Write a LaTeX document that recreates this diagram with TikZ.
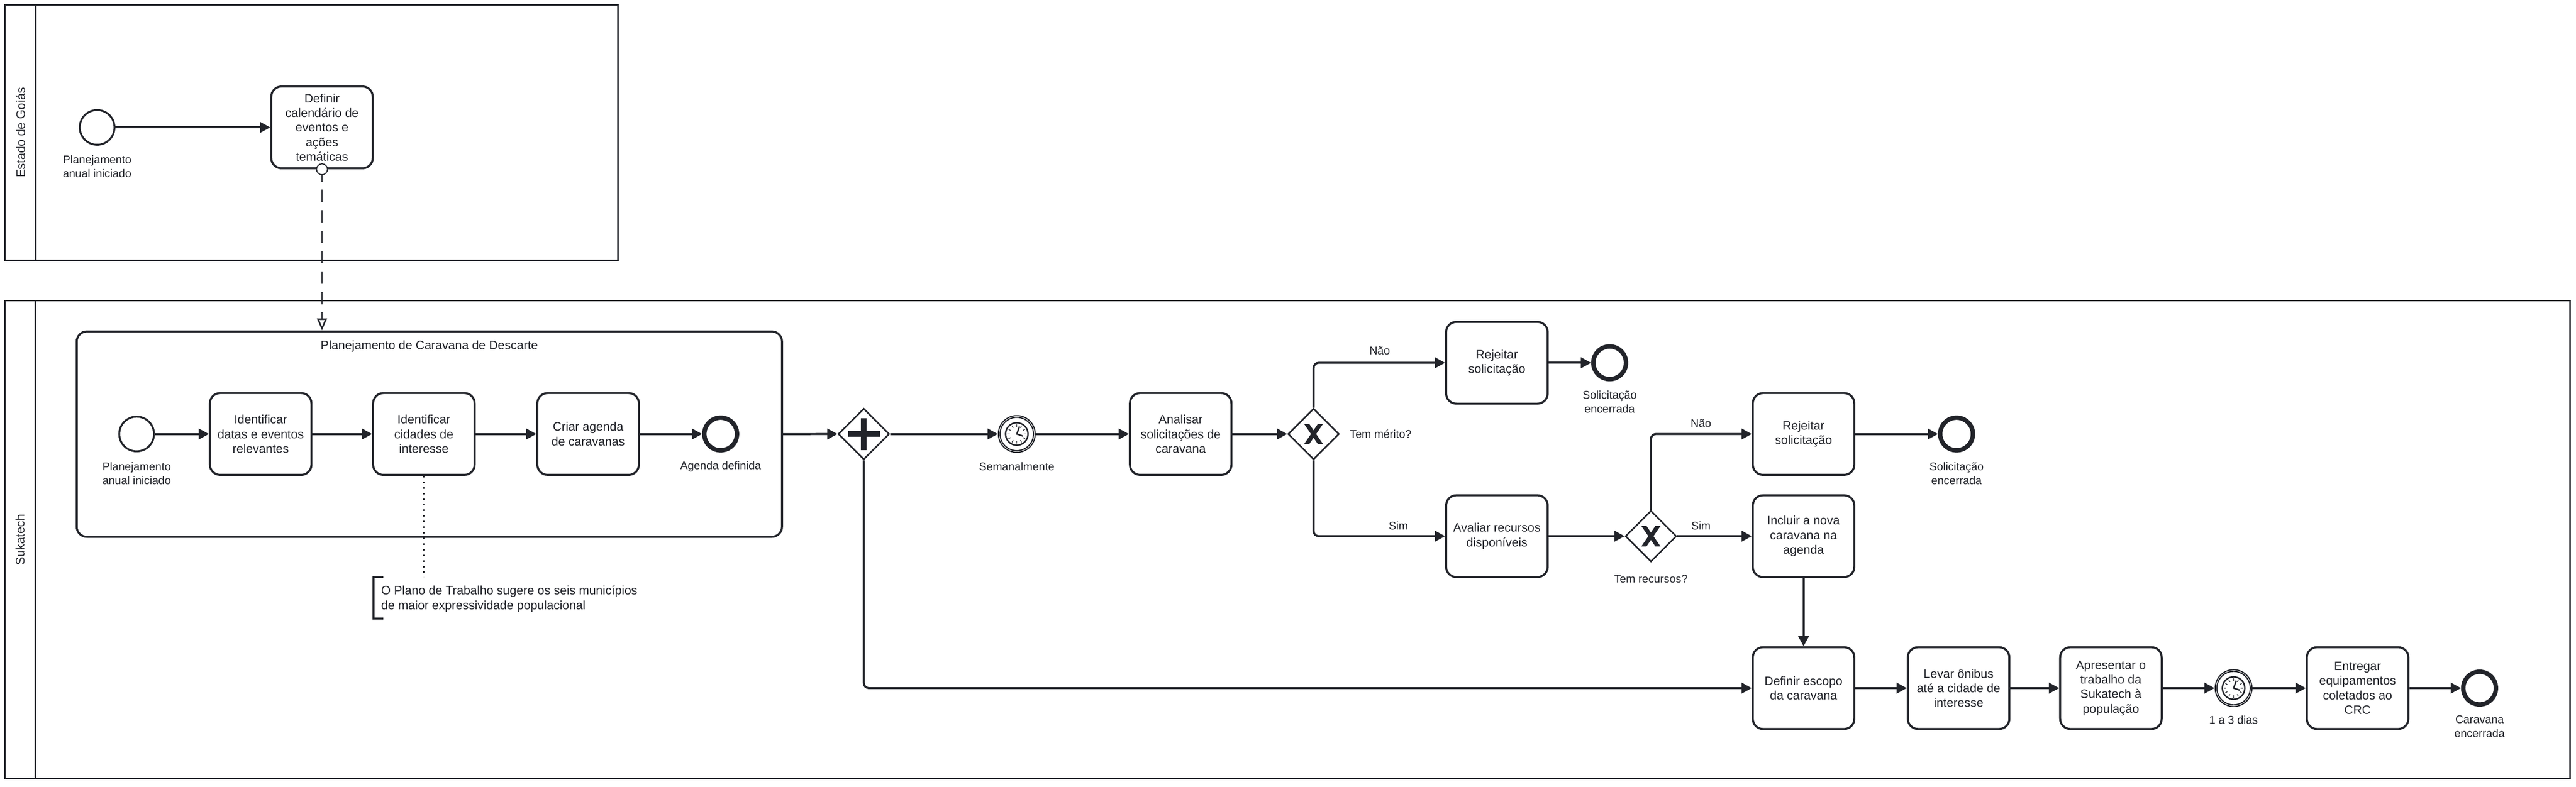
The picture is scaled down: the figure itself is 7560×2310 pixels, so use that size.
\documentclass[tikz,border=0pt]{standalone}
\usepackage{fontspec}
\setmainfont{Liberation Sans}
\usepackage{tikz}
\usetikzlibrary{calc}
\usetikzlibrary{arrows.meta,shapes.geometric}
\definecolor{ink}{HTML}{22242A}
\def\px{0.1mm}
\newcommand{\taskfont}{\fontsize{10.2}{12.2}\selectfont}
\newcommand{\lblfont}{\fontsize{9.35}{11.6}\selectfont}
% clock drawn inside a timer event
\newcommand{\clockface}[1]{%
  \draw[ink, line width=0.33mm] (#1.center) circle (4.9mm);
  \draw[ink, line width=0.43mm] (#1.center) circle (3.3mm);
  \foreach \ang in {0,30,...,330}
    \draw[ink, line width=0.2mm] ($(#1.center)+(\ang:21)$) -- ($(#1.center)+(\ang:28)$);
  \draw[ink, line width=0.42mm] ($(#1.center)+(8,-22)$) -- (#1.center) -- ($(#1.center)+(18,6)$);
}
% cross drawn inside an exclusive gateway
\newcommand{\xmark}[1]{%
  \fill[fill=ink] ($(#1.center)+(-28,-30)$) -- ($(#1.center)+(-13,-30)$) -- ($(#1.center)+(28,30)$) -- ($(#1.center)+(13,30)$) -- cycle;
  \fill[fill=ink] ($(#1.center)+(13,-30)$) -- ($(#1.center)+(28,-30)$) -- ($(#1.center)+(-13,30)$) -- ($(#1.center)+(-28,30)$) -- cycle;
}

\begin{document}
\begin{tikzpicture}[x=\px, y=-\px,
  ink/.style={draw=ink, text=ink},
  pool/.style={draw=ink, line width=0.45mm},
  task/.style={ink, line width=0.6mm, rounded corners=3mm, minimum width=29.8mm,
    minimum height=24mm, align=center, inner sep=0pt, font=\taskfont},
  subproc/.style={ink, line width=0.6mm, rounded corners=3mm, minimum width=207mm,
    minimum height=60.3mm, inner sep=0pt},
  startev/.style={circle, ink, line width=0.55mm, minimum size=10.2mm, inner sep=0pt},
  endev/.style={circle, ink, line width=1.3mm, minimum size=9.6mm, inner sep=0pt},
  timerev/.style={circle, ink, line width=0.33mm, minimum size=10.8mm, inner sep=0pt},
  gateway/.style={diamond, ink, line width=0.45mm, minimum width=15mm,
    minimum height=15mm, inner sep=0pt},
  flow/.style={draw=ink, line width=0.6mm, rounded corners=1.5mm,
    -{Triangle[length=3mm, width=3.1mm]}},
  msg/.style={draw=ink, line width=0.45mm, dash pattern=on 3.6mm off 2.4mm,
    -{Triangle[open, fill=white, length=3.5mm, width=2.9mm]}},
  assoc/.style={draw=ink, line width=0.45mm, dash pattern=on 0.45mm off 1.2mm},
  lbl/.style={align=center, inner sep=0pt, font=\lblfont, text=ink}]

\useasboundingbox (0,0) rectangle (7560,2310);

% POOLS
% estado de goias
\draw[pool] (14,14) rectangle (1814,764);
\draw[ink, line width=0.4mm] (105,14) -- (105,764);
\node[lbl, font=\taskfont, rotate=90] (poolGo) at (60,389) {Estado de Goiás};
% sukatech
\draw[pool] (14,883) rectangle (7543,2285);
\draw[ink, line width=0.4mm] (104,883) -- (104,2285);
\node[lbl, font=\taskfont, rotate=90] (poolSk) at (59,1584) {Sukatech};

% ESTADO DE GOIAS
\node[startev] (startGo) at (285,374) {};
\node[lbl] (startGoLbl) at ($(startGo)+(0,115)$) {Planejamento\\anual iniciado};
\node[task] (defCal) at (945,374) {Definir\\calendário de\\eventos e\\ações\\temáticas};
\draw[flow] (startGo) -- (defCal);

% SUBPROCESS
\node[subproc] (sub) at (1260,1274.5) {};
\node[lbl, font=\taskfont] (subTitle) at (1260,1017) {Planejamento de Caravana de Descarte};
% message flow
\draw[msg] (defCal.south) -- (defCal.south |- sub.north);
\draw[ink, line width=0.3mm, fill=white] (defCal.south) circle (1.6mm);
% inner steps
\node[startev] (startS) at (401,1274) {};
\node[lbl] (startSLbl) at ($(startS)+(0,116)$) {Planejamento\\anual iniciado};
\node[task] (idDatas) at (765,1274) {Identificar\\datas e eventos\\relevantes};
\node[task] (idCidades) at (1244,1274) {Identificar\\cidades de\\interesse};
\node[task] (criarAg) at (1726,1274) {Criar agenda\\de caravanas};
\node[endev] (endAg) at (2115,1274) {};
\node[lbl] (endAgLbl) at ($(endAg)+(0,96)$) {Agenda definida};
\draw[flow] (startS) -- (idDatas);
\draw[flow] (idDatas) -- (idCidades);
\draw[flow] (idCidades) -- (criarAg);
\draw[flow] (criarAg) -- (endAg);

% ANNOTATION
\coordinate (noteTop) at (1096,1694);
\coordinate (noteBot) at (1096,1816);
\draw[ink, line width=0.6mm] ($(noteTop)+(29,0)$) -- (noteTop) -- (noteBot) -- ($(noteBot)+(29,0)$);
\node[lbl, font=\taskfont, align=left, anchor=west] (note) at (1118,1758)
  {O Plano de Trabalho sugere os seis municípios\\de maior expressividade populacional};
\draw[assoc] (idCidades.south) -- (idCidades.south |- noteTop);

% REQUESTS
\node[gateway] (parGw) at (2535,1274) {};
\draw[ink, line width=1.7mm] ($(parGw)+(-47,0)$) -- ($(parGw)+(47,0)$);
\draw[ink, line width=1.7mm] ($(parGw)+(0,-47)$) -- ($(parGw)+(0,47)$);
\node[timerev] (timer1) at (2984,1274) {};
\clockface{timer1}
\node[lbl] (timer1Lbl) at ($(timer1)+(0,96)$) {Semanalmente};
\node[task] (analisar) at (3465,1274) {Analisar\\solicitações de\\caravana};
\node[gateway] (xor1) at (3855,1274) {};
\xmark{xor1}
\node[lbl, anchor=west] (xor1Lbl) at (3961,1274) {Tem mérito?};
\node[task] (rejeitar1) at (4393,1065) {Rejeitar\\solicitação};
\node[endev] (end1) at (4724,1065) {};
\node[lbl] (end1Lbl) at ($(end1)+(0,115)$) {Solicitação\\encerrada};
\node[task] (avaliar) at (4393,1574) {Avaliar recursos\\disponíveis};
\node[lbl] (nao1) at (4049,1030) {Não};
\node[lbl] (sim1) at (4104,1543) {Sim};
\draw[flow] (sub.east) -- (parGw.west);
\draw[flow] (parGw) -- (timer1);
\draw[flow] (timer1) -- (analisar);
\draw[flow] (analisar) -- (xor1);
\draw[flow] (xor1.north) |- (rejeitar1.west);
\draw[flow] (rejeitar1) -- (end1);
\draw[flow] (xor1.south) |- (avaliar.west);

% RESOURCES
\node[gateway] (xor2) at (4845,1574) {};
\xmark{xor2}
\node[lbl] (xor2Lbl) at ($(xor2)+(0,126)$) {Tem recursos?};
\node[task] (rejeitar2) at (5293,1274) {Rejeitar\\solicitação};
\node[endev] (end2) at (5742,1274) {};
\node[lbl] (end2Lbl) at ($(end2)+(0,116)$) {Solicitação\\encerrada};
\node[task] (incluir) at (5293,1574) {Incluir a nova\\caravana na\\agenda};
\node[lbl] (nao2) at (4992,1243) {Não};
\node[lbl] (sim2) at (4992,1543) {Sim};
\draw[flow] (avaliar) -- (xor2);
\draw[flow] (xor2.north) |- (rejeitar2.west);
\draw[flow] (rejeitar2) -- (end2);
\draw[flow] (xor2) -- (incluir);

% CARAVAN
\node[task] (defEscopo) at (5293,2020) {Definir escopo\\da caravana};
\node[task] (levar) at (5748,2020) {Levar ônibus\\até a cidade de\\interesse};
\node[task] (apresentar) at (6195,2020) {Apresentar o\\trabalho da\\Sukatech à\\população};
\node[timerev] (timer2) at (6555,2020) {};
\clockface{timer2}
\node[lbl] (timer2Lbl) at ($(timer2)+(0,93)$) {1 a 3 dias};
\node[task] (entregar) at (6919,2020) {Entregar\\equipamentos\\coletados ao\\CRC};
\node[endev] (endCar) at (7277,2020) {};
\node[lbl] (endCarLbl) at ($(endCar)+(0,112)$) {Caravana\\encerrada};
\draw[flow] (incluir) -- (defEscopo);
\draw[flow] (parGw.south) |- (defEscopo.west);
\draw[flow] (defEscopo) -- (levar);
\draw[flow] (levar) -- (apresentar);
\draw[flow] (apresentar) -- (timer2);
\draw[flow] (timer2) -- (entregar);
\draw[flow] (entregar) -- (endCar);

\end{tikzpicture}
\end{document}
